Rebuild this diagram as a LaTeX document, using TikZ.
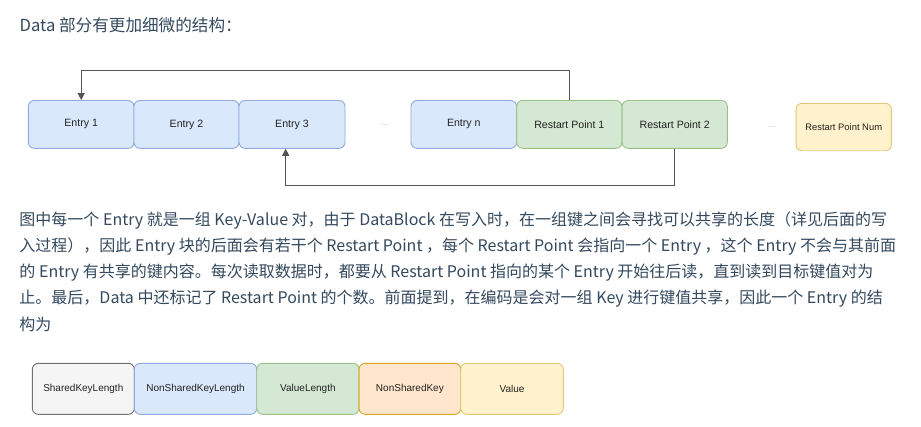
\documentclass[tikz,border=0pt]{standalone}
\usepackage{fontspec}
\setmainfont{Liberation Sans}
\newfontfamily\cjk{Noto Sans CJK SC}
\usetikzlibrary{arrows.meta}

\definecolor{bodytext}{HTML}{34495E}
\definecolor{blueFill}{HTML}{DAE8FC}
\definecolor{blueLine}{HTML}{8FAADC}
\definecolor{greenFill}{HTML}{D5E8D4}
\definecolor{greenLine}{HTML}{9AC28A}
\definecolor{yellowFill}{HTML}{FFF2CC}
\definecolor{yellowLine}{HTML}{E0C97A}
\definecolor{orangeFill}{HTML}{FFE6CC}
\definecolor{orangeLine}{HTML}{DDA520}
\definecolor{grayFill}{HTML}{F5F5F5}
\definecolor{grayLine}{HTML}{707070}
\definecolor{linkLine}{HTML}{555555}
\definecolor{boxText}{HTML}{222222}

\tikzset{
  cell/.style={draw, line width=0.9pt, rounded corners=6pt, inner sep=0pt,
    minimum height=47.8pt, text=boxText, font=\fontsize{10.6}{12}\selectfont},
  bluecell/.style={cell, fill=blueFill, draw=blueLine},
  greencell/.style={cell, fill=greenFill, draw=greenLine},
  fieldcell/.style={cell, minimum height=51pt, font=\fontsize{10}{12}\selectfont},
  dots/.style={text=gray!70, font=\fontsize{8}{10}\selectfont, inner sep=0pt},
  arr/.style={draw=linkLine, line width=1pt,
    -{Triangle[width=7pt,length=7pt]}},
  para/.style={anchor=west, inner sep=0pt, text=bodytext,
    font=\cjk\fontsize{16}{20}\selectfont},
}

\begin{document}
\begin{tikzpicture}[x=1pt,y=-1pt]
\useasboundingbox[fill=white] (0,0) rectangle (921,426);

% heading
\node[para, font=\cjk\fontsize{16.6}{20}\selectfont] (title) at (19.5,25)
  {Data 部分有更加细微的结构：};

% data block layout
\node[bluecell, minimum width=105.7pt] (e1) at (81.2,124.4) {Entry 1};
\node[bluecell, minimum width=105pt]   (e2) at (186.5,124.4) {Entry 2};
\node[bluecell, minimum width=106pt]   (e3) at (292,124.4) {Entry 3};
\node[dots] (gap1) at (385,125) {...};
\node[bluecell, minimum width=105.7pt] (en) at (463.8,124.4) {Entry n};
\node[greencell, minimum width=105.3pt] (rp1) at (569.3,124.4) {Restart Point 1};
\node[greencell, minimum width=105.3pt] (rp2) at (674.7,124.4) {Restart Point 2};
\node[dots] (gap2) at (772,127) {...};
\node[cell, fill=yellowFill, draw=yellowLine, minimum width=95.3pt,
  minimum height=47.4pt, font=\fontsize{9.4}{11}\selectfont]
  (rpn) at (843.7,127) {Restart Point Num};

% restart point links
\draw[arr] (rp1.north) -- ++(0,-29.8) -| (e1.north);
\draw[arr] (rp2.south) -- ++(0,37) -| ([xshift=-6.3pt]e3.south);

% explanation
\node[para] (l1) at (19.3,220.7) {图中每一个 Entry 就是一组 Key-Value 对，由于 DataBlock 在写入时，在一组键之间会寻找可以共享的长度（详见后面的写};
\node[para] (l2) at (19.3,247) {入过程），因此 Entry 块的后面会有若干个 Restart Point ，每个 Restart Point 会指向一个 Entry ，这个 Entry 不会与其前面};
\node[para] (l3) at (19.3,273) {的 Entry 有共享的键内容。每次读取数据时，都要从 Restart Point 指向的某个 Entry 开始往后读，直到读到目标键值对为};
\node[para] (l4) at (19.3,299) {止。最后，Data 中还标记了 Restart Point 的个数。前面提到，在编码是会对一组 Key 进行键值共享，因此一个 Entry 的结};
\node[para] (l5) at (19.3,324) {构为};

% entry layout
\node[fieldcell, fill=grayFill, draw=grayLine, minimum width=102pt]
  (skl) at (83.3,388.8) {SharedKeyLength};
\node[fieldcell, fill=blueFill, draw=blueLine, minimum width=122.4pt]
  (nskl) at (195.5,388.8) {NonSharedKeyLength};
\node[fieldcell, fill=greenFill, draw=greenLine, minimum width=102.3pt]
  (vl) at (307.9,388.8) {ValueLength};
\node[fieldcell, fill=orangeFill, draw=orangeLine, minimum width=101.7pt]
  (nsk) at (409.9,388.8) {NonSharedKey};
\node[fieldcell, fill=yellowFill, draw=yellowLine, minimum width=102.6pt]
  (val) at (512,388.8) {Value};
\end{tikzpicture}
\end{document}
